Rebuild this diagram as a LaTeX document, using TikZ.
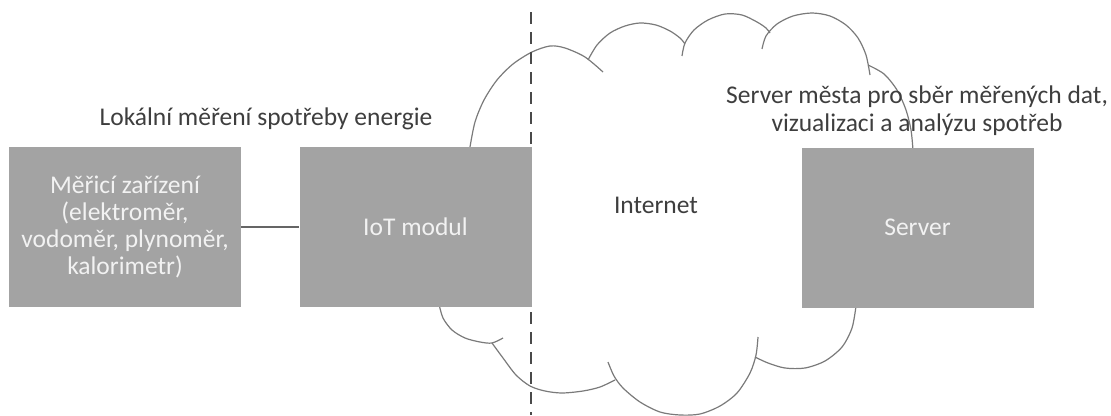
\documentclass[tikz,border=0pt]{standalone}
\usepackage{fontspec}
\setmainfont{Carlito}
\definecolor{boxgray}{HTML}{A3A3A3}
\definecolor{boxtext}{HTML}{F2F2F2}
\definecolor{textgray}{HTML}{3E3E3E}
\definecolor{cloudgray}{HTML}{7A7A7A}
\definecolor{dashgray}{HTML}{4A4A4A}
\begin{document}
\begin{tikzpicture}[x=1pt,y=-1pt,
  box/.style={fill=boxgray, draw=none, minimum width=232pt, minimum height=160pt,
    inner sep=0pt, text=boxtext, align=center, font=\fontsize{25.5}{27}\selectfont},
  lbl/.style={text=textgray, align=center, inner sep=0pt, font=\fontsize{25.5}{28}\selectfont},
  cloudline/.style={draw=cloudgray, line width=1.2pt},
  divider/.style={draw=dashgray, line width=1.8pt, dash pattern=on 12pt off 8pt},
  link/.style={draw=textgray!80, line width=1.4pt}]
\useasboundingbox (0,0) rectangle (1111,415);

% cloud (partly hidden by the boxes)
\draw[cloudline] plot[smooth] coordinates {(470,147) (475,122) (484,100) (497,80) (513,64) (532,52) (550,46) (565,48) (585,57) (603,72)};
\draw[cloudline] plot[smooth] coordinates {(588,60) (597,45) (610,33) (625,26) (640,23) (656,25) (670,31) (680,38) (685,44)};
\draw[cloudline] plot[smooth] coordinates {(682,56) (685,43) (694,30) (708,20) (725,14) (742,15) (757,22) (766,28) (770,33)};
\draw[cloudline] plot[smooth] coordinates {(762,49) (766,36) (777,24) (793,16) (812,13) (830,16) (846,25) (858,38) (866,55) (870,75)};
\draw[cloudline] plot[smooth] coordinates {(868,65) (884,74) (897,90) (906,110) (911,130) (913,150)};
\draw[cloudline] plot[smooth] coordinates {(856,306) (852,328) (842,347) (825,361) (805,368) (785,368) (768,363) (755,357)};
\draw[cloudline] plot[smooth] coordinates {(758,337) (756,355) (750,373) (737,393) (720,406) (700,414) (680,415) (660,412) (640,402) (623,388) (614,376) (608,362)};
\draw[cloudline] plot[smooth] coordinates {(615,380) (600,387) (583,391) (562,393) (545,391) (530,386) (516,375) (503,358) (492,343)};
\draw[cloudline] plot[smooth] coordinates {(439,304) (443,318) (452,330) (465,338) (480,342) (492,343) (503,338)};

% divider
\coordinate (dtop) at (531,12);
\coordinate (dbot) at (531,415);
\draw[divider] (dtop) -- (dbot);

% boxes
\node[box] (meter) at (125,227) {Měřicí zařízení\\(elektroměr,\\vodoměr, plynoměr,\\kalorimetr)};
\node[box] (iot) at (415.5,227) {IoT modul};
\node[box] (server) at (917.5,227.5) {Server};
\draw[link] (meter.east) -- (iot.west);

% labels
\node[lbl] (local) at (266,119) {Lokální měření spotřeby energie};
\node[lbl] (srvlbl) at (917,111) {Server města pro sběr měřených dat,\\vizualizaci a analýzu spotřeb};
\node[lbl] (inet) at (656,205) {Internet};
\end{tikzpicture}
\end{document}
